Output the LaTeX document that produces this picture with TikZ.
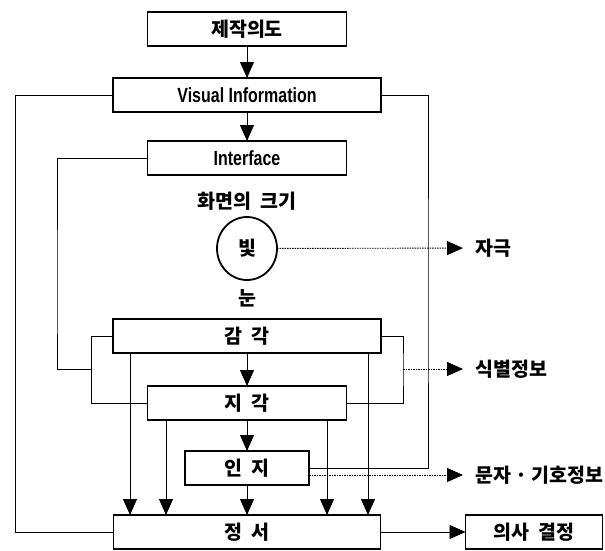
\documentclass[tikz,border=0pt]{standalone}
\usepackage{fontspec}
\setmainfont{Noto Sans CJK KR}
\newfontfamily\latinfont[FakeStretch=0.78]{Liberation Sans}
\usepackage{tikz}
\usetikzlibrary{shapes,arrows.meta,positioning}
\newcommand{\kor}{\fontsize{19.5}{19.5}\selectfont\bfseries}
\newcommand{\lat}{\latinfont\fontsize{20.5}{20.5}\selectfont\bfseries}
\newcommand{\sep}{\hspace{0.45em}}
\tikzstyle{box} = [rectangle, draw=black, line width=1.8pt, fill=white, text=black, text centered, font=\kor, minimum height=34pt, inner sep=0pt, outer sep=0pt]
\tikzstyle{eye} = [ellipse, draw=black, line width=1.8pt, text=black, font=\kor, minimum width=60pt, minimum height=63pt, inner sep=0pt, outer sep=0pt]
\tikzstyle{note} = [text=black, font=\kor, inner sep=0pt]
\tikzstyle{tag} = [note, anchor=west, inner xsep=12pt]
\tikzstyle{link}  = [draw, line width=0.9pt]
\tikzstyle{tedge} = [draw, line width=0.9pt, >={Triangle[length=16pt,width=14pt]}, ->]
\tikzstyle{dedge} = [tedge, dash pattern=on 1.5pt off 1pt]

\begin{document}
\begin{tikzpicture}[x=1pt, y=-1pt]
\useasboundingbox (0,0) rectangle (605,550);

% main chain =============================
\node[box, minimum width=199pt] (intent) at (247,29) {제작의도};
\node[box, minimum width=268pt, font=\lat, below=32pt of intent] (visual) {Visual Information};
\node[box, minimum width=199pt, font=\lat, below=29pt of visual] (interface) {Interface};
\node[eye, below=42pt of interface] (light) {빛};
\node[note, above=6pt of light] (screen) {화면의\sep 크기};
\node[note, below=9pt of light] (eyes) {눈};
\node[box, minimum width=268pt, below=144pt of interface] (sense) {감\sep 각};
\node[box, minimum width=199pt, below=33pt of sense] (percept) {지\sep 각};
\node[box, minimum width=124pt, below=31pt of percept] (cognition) {인\sep 지};
\node[box, minimum width=267pt, below=30pt of cognition] (emotion) {정\sep 서};
\node[box, minimum width=137pt, right=85pt of emotion] (decision) {의사\sep 결정};

% side labels
\node[tag] (stim) at (463,248) {자극};
\node[tag] (idinfo) at (463,369) {식별정보};
\node[tag] (symbol) at (463,475) {문자 · 기호정보};

% rails
\coordinate (railL) at (15.5,300);
\coordinate (railR) at (428,300);
\coordinate (railI) at (57,300);
\coordinate (brL) at (91.5,369);
\coordinate (brR) at (403,369);

% edges
\path[tedge] (intent) edge (visual);
\path[tedge] (visual) edge (interface);
\path[tedge] (sense) edge (percept);
\path[tedge] (percept) edge (cognition);
\path[tedge] (emotion) edge (decision);
\foreach \n/\dx in {sense/-117, sense/121, percept/-81, percept/80, cognition/0}
  \draw[tedge] ([xshift=\dx pt]\n.south) -- ([xshift=\dx pt]\n.south |- emotion.north);

\draw[link] (visual.west) -| (railL) |- (emotion.west);
\draw[link] (visual.east) -| (railR) |- (cognition.east);
\draw[link] (interface.west) -| (railI) |- (brL);
\draw[link] (sense.west) -| (brL) |- (percept.west);
\draw[link] (sense.east) -| (brR) |- (percept.east);

\draw[dedge] (light) -- (stim);
\draw[dedge] (brR) -- (idinfo);
\draw[dedge] ([yshift=-7pt]cognition.east) -- (symbol);

\end{tikzpicture}
\end{document}
